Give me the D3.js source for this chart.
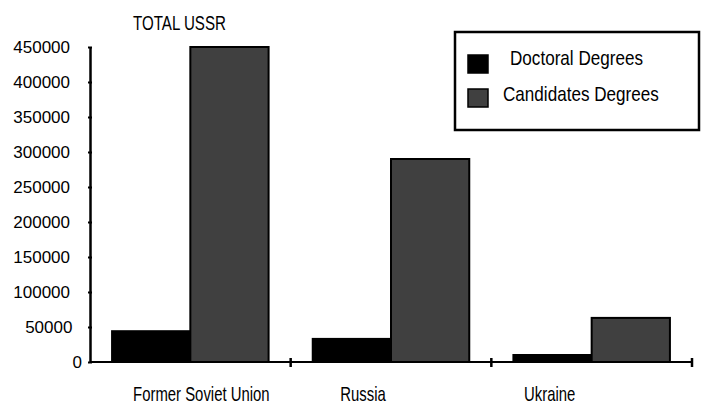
<!DOCTYPE html>
<html>
<head>
<meta charset="utf-8">
<script src="https://cdn.jsdelivr.net/npm/d3@7"></script>
<style>
body { margin: 0; background: #fff; }
text { font-family: "Liberation Sans", Arial, sans-serif; fill: #000; }
</style>
</head>
<body>
<svg id="chart" width="702" height="407"></svg>
<script>
// data
var categories = ["Former Soviet Union", "Russia", "Ukraine"];
var seriesNames = ["Doctoral Degrees", "Candidates Degrees"];
var doctoralValues = [44000, 33000, 10000];
var candidatesValues = [450000, 290000, 63000];
var yTicks = [0, 50000, 100000, 150000, 200000, 250000, 300000, 350000, 400000, 450000];
var chartTitle = "TOTAL USSR";

var seriesColors = ["#000000", "#404040"];
// labels in the original sit off the band centres
var labelShift = [11, -28, -42];

var svg = d3.select("#chart");

// condensed look: squeeze text horizontally around its anchor
function squeeze(sel, x, yPos, k){
	sel.attr("x", 0).attr("y", 0)
		.attr("transform", "translate(" + x + "," + yPos + ") scale(" + k + ",1)");
}

var x0 = d3.scaleBand()
	.domain(categories)
	.range([90, 692])
	.paddingInner(0.22)
	.paddingOuter(0.11);

var x1 = d3.scaleBand()
	.domain(seriesNames)
	.range([0, x0.bandwidth()]);

var y = d3.scaleLinear()
	.domain([0, 450000])
	.range([362, 47]);

var rows = categories.map(function(c, i){
	return {cat: c, vals: [doctoralValues[i], candidatesValues[i]]};
});

// bars
var groups = svg.append("g").selectAll("g")
	.data(rows)
	.enter()
	.append("g")
	.attr("transform", function(d){ return "translate(" + x0(d.cat) + ",0)"; });

groups.selectAll("rect")
	.data(function(d){ return d.vals.map(function(v, j){ return {name: seriesNames[j], v: v, j: j}; }); })
	.enter()
	.append("rect")
	.attr("x", function(d){ return x1(d.name); })
	.attr("y", function(d){ return y(d.v); })
	.attr("width", x1.bandwidth())
	.attr("height", function(d){ return y(0) - y(d.v); })
	.attr("fill", function(d){ return seriesColors[d.j]; })
	.attr("stroke", "#000")
	.attr("stroke-width", 2);

// y axis
var yAxis = svg.append("g")
	.attr("transform", "translate(90,0)")
	.call(d3.axisLeft(y).tickValues(yTicks).tickSize(0).tickFormat(d3.format("d")));
yAxis.select(".domain").attr("stroke", "#000").attr("stroke-width", 2.5);
yAxis.selectAll(".tick text")
	.attr("font-size", 17)
	.attr("fill", "#000")
	.attr("x", function(d){ return -20 + (6 - String(d).length) * 2.4; });
yAxis.selectAll(".tick").append("line")
	.attr("x1", -2).attr("x2", 2)
	.attr("stroke", "#000").attr("stroke-width", 2);

// x axis
var xLine = svg.append("g");
xLine.append("line")
	.attr("x1", 90).attr("x2", 692)
	.attr("y1", y(0)).attr("y2", y(0))
	.attr("stroke", "#000").attr("stroke-width", 2);
var xBounds = d3.range(1, categories.length + 1).map(function(i){ return 90 + i * x0.step(); });
xLine.selectAll(".xt")
	.data(xBounds)
	.enter()
	.append("line")
	.attr("x1", function(d){ return d; })
	.attr("x2", function(d){ return d; })
	.attr("y1", y(0) - 4).attr("y2", y(0) + 5)
	.attr("stroke", "#000").attr("stroke-width", 2.5);

xLine.selectAll(".xl")
	.data(categories)
	.enter()
	.append("text")
	.attr("text-anchor", "middle")
	.attr("font-size", 20)
	.text(function(d){ return d; })
	.each(function(d, i){
		squeeze(d3.select(this), x0(d) + x0.bandwidth() / 2 + labelShift[i], 401, 0.745);
	});

// title
svg.append("text")
	.attr("font-size", 21)
	.text(chartTitle)
	.call(squeeze, 133, 30, 0.72);

// legend
var legend = svg.append("g");
legend.append("rect")
	.attr("x", 455).attr("y", 32)
	.attr("width", 244).attr("height", 98)
	.attr("fill", "#fff")
	.attr("stroke", "#000")
	.attr("stroke-width", 2.5);

var legendItems = legend.selectAll(".li")
	.data(seriesNames)
	.enter()
	.append("g")
	.attr("transform", function(d, i){ return "translate(468," + (55 + i * 34) + ")"; });

legendItems.append("rect")
	.attr("width", 20).attr("height", 18)
	.attr("fill", function(d, i){ return seriesColors[i]; })
	.attr("stroke", "#000")
	.attr("stroke-width", 1.5);

legendItems.append("text")
	.attr("font-size", 20)
	.text(function(d){ return d; })
	.each(function(d, i){
		squeeze(d3.select(this), i == 0 ? 42 : 35, i == 0 ? 10 : 12, 0.855);
	});
</script>
</body>
</html>
